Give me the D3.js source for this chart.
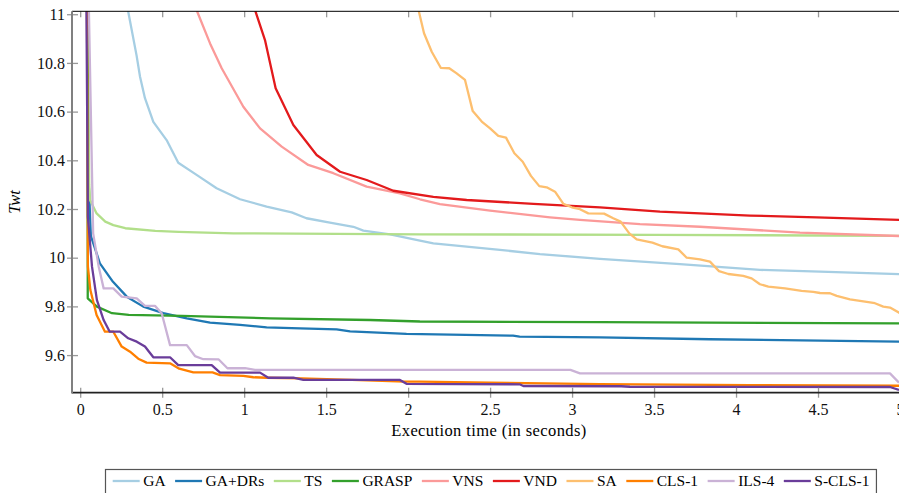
<!DOCTYPE html>
<html>
<head>
<meta charset="utf-8">
<script src="https://cdn.jsdelivr.net/npm/d3@7"></script>
<style>
  html, body { margin: 0; padding: 0; background: #fff; }
  svg { display: block; font-family: "Liberation Serif", "DejaVu Serif", serif; }
</style>
</head>
<body>
<svg id="chart" width="899" height="493"></svg>
<script>
// series: [time (s), Twt]
const gaData = [[0.28, 11.12], [0.293, 11.01], [0.344, 10.83], [0.365, 10.743], [0.395, 10.655], [0.446, 10.558],
  [0.527, 10.483], [0.598, 10.39], [0.71, 10.34], [0.832, 10.285], [0.975, 10.24], [1.137, 10.21], [1.29, 10.186],
  [1.38, 10.162], [1.523, 10.144], [1.666, 10.127], [1.727, 10.111], [1.89, 10.096], [2.072, 10.07], [2.154, 10.059],
  [2.56, 10.032], [2.804, 10.015], [3.17, 9.995], [3.658, 9.974], [4.146, 9.95], [4.512, 9.943], [5.0, 9.932]];
const gaDrsData = [[0.04, 11.3], [0.052, 10.305], [0.065, 10.09], [0.12, 9.977], [0.2, 9.901], [0.284, 9.84],
  [0.385, 9.799], [0.507, 9.772], [0.65, 9.751], [0.792, 9.733], [0.975, 9.724], [1.137, 9.714], [1.341, 9.71],
  [1.564, 9.706], [1.646, 9.697], [1.99, 9.687], [2.64, 9.68], [2.68, 9.676], [3.17, 9.673], [3.84, 9.665], [5.0, 9.655]];
const tsData = [[0.04, 11.3], [0.055, 10.3], [0.06, 10.237], [0.1, 10.182], [0.153, 10.148], [0.202, 10.134],
  [0.275, 10.121], [0.458, 10.11], [0.6, 10.106], [0.934, 10.1], [2.072, 10.096], [3.5, 10.094], [5.0, 10.09]];
const graspData = [[0.045, 11.3], [0.046, 9.833], [0.102, 9.799], [0.194, 9.772], [0.296, 9.765], [0.621, 9.761],
  [1.158, 9.751], [1.768, 9.744], [2.072, 9.738], [3.17, 9.735], [5.0, 9.73]];
const vnsData = [[0.7, 11.1], [0.714, 11.01], [0.792, 10.88], [0.863, 10.778], [0.995, 10.62], [1.097, 10.531],
  [1.229, 10.456], [1.391, 10.381], [1.544, 10.347], [1.747, 10.292], [1.95, 10.264], [2.072, 10.24], [2.194, 10.22],
  [2.5, 10.193], [2.865, 10.166], [3.048, 10.155], [3.414, 10.138], [3.78, 10.127], [4.39, 10.103], [5.0, 10.089]];
const vndData = [[1.06, 11.08], [1.07, 11.01], [1.127, 10.894], [1.192, 10.696], [1.3, 10.545], [1.442, 10.422],
  [1.585, 10.353], [1.747, 10.319], [1.91, 10.275], [2.154, 10.25], [2.357, 10.237], [2.764, 10.221], [3.17, 10.207],
  [3.536, 10.189], [3.78, 10.182], [4.085, 10.173], [4.492, 10.166], [5.0, 10.155]];
const saData = [[2.06, 11.06], [2.066, 11.01], [2.097, 10.922], [2.144, 10.846], [2.199, 10.78], [2.251, 10.778],
  [2.296, 10.757], [2.347, 10.73], [2.394, 10.602], [2.449, 10.559], [2.5, 10.531], [2.55, 10.5], [2.597, 10.493],
  [2.648, 10.429], [2.699, 10.394], [2.749, 10.336], [2.8, 10.294], [2.845, 10.289], [2.896, 10.271], [2.947, 10.221],
  [2.998, 10.207], [3.048, 10.199], [3.099, 10.182], [3.195, 10.181], [3.251, 10.162], [3.296, 10.148], [3.349, 10.1],
  [3.394, 10.075], [3.49, 10.062], [3.55, 10.047], [3.648, 10.034], [3.699, 10.0], [3.78, 9.993], [3.841, 9.984],
  [3.896, 9.945], [3.953, 9.933], [4.044, 9.925], [4.095, 9.915], [4.146, 9.891], [4.197, 9.881], [4.299, 9.874],
  [4.4, 9.864], [4.471, 9.86], [4.512, 9.855], [4.573, 9.854], [4.614, 9.843], [4.695, 9.829], [4.797, 9.819],
  [4.847, 9.813], [4.898, 9.799], [4.939, 9.795], [5.0, 9.772]];
const cls1Data = [[0.04, 11.3], [0.047, 9.963], [0.062, 9.867], [0.1, 9.765], [0.151, 9.696], [0.202, 9.696],
  [0.253, 9.635], [0.304, 9.614], [0.354, 9.585], [0.405, 9.569], [0.548, 9.566], [0.604, 9.544], [0.69, 9.529],
  [0.807, 9.529], [0.853, 9.518], [0.995, 9.515], [1.056, 9.509], [1.137, 9.507], [1.35, 9.504], [1.656, 9.498],
  [1.98, 9.491], [2.07, 9.491], [2.5, 9.487], [3.17, 9.481], [4.085, 9.477], [5.0, 9.474]];
const ils4Data = [[0.045, 11.3], [0.079, 10.1], [0.113, 9.963], [0.143, 9.874], [0.202, 9.874], [0.253, 9.84],
  [0.345, 9.833], [0.395, 9.802], [0.456, 9.802], [0.497, 9.772], [0.548, 9.641], [0.65, 9.641], [0.7, 9.596],
  [0.751, 9.583], [0.845, 9.582], [0.898, 9.546], [1.005, 9.546], [1.066, 9.539], [2.99, 9.539], [3.048, 9.525],
  [4.939, 9.525], [4.994, 9.487]];
const scls1Data = [[0.035, 11.3], [0.047, 10.168], [0.072, 9.963], [0.102, 9.826], [0.143, 9.744], [0.18, 9.696],
  [0.243, 9.696], [0.293, 9.669], [0.345, 9.655], [0.395, 9.635], [0.446, 9.591], [0.548, 9.591], [0.598, 9.559],
  [0.802, 9.559], [0.853, 9.528], [1.097, 9.528], [1.147, 9.507], [1.3, 9.507], [1.361, 9.498], [1.95, 9.498],
  [1.99, 9.482], [2.68, 9.48], [2.703, 9.473], [3.3, 9.472], [3.353, 9.47], [4.939, 9.469], [4.994, 9.457]];

const seriesNames = ['GA', 'GA+DRs', 'TS', 'GRASP', 'VNS', 'VND', 'SA', 'CLS-1', 'ILS-4', 'S-CLS-1'];
const seriesData = [gaData, gaDrsData, tsData, graspData, vnsData, vndData, saData, cls1Data, ils4Data, scls1Data];
const colors = ['#a6cee3', '#1f78b4', '#b2df8a', '#33a02c', '#fb9a99', '#e31a1c', '#fdbf6f', '#ff7f00', '#cab2d6', '#6a3d9a'];

const xTicks = [0, 0.5, 1, 1.5, 2, 2.5, 3, 3.5, 4, 4.5, 5];
const yTicks = [9.6, 9.8, 10, 10.2, 10.4, 10.6, 10.8, 11];

const svg = d3.select('#chart');
const plotLeft = 72, plotRight = 900, plotTop = 11.3, plotBottom = 392.7;

const x = d3.scaleLinear().domain([-0.05, 5]).range([plotLeft, plotRight]);
const y = d3.scaleLinear().domain([9.4455, 11.012]).range([plotBottom, plotTop]);

svg.append('clipPath').attr('id', 'plot-clip')
   .append('rect')
   .attr('x', plotLeft).attr('y', plotTop)
   .attr('width', plotRight - plotLeft).attr('height', plotBottom - plotTop);

// lines
const line = d3.line().x(d => x(d[0])).y(d => y(d[1]));
const lines = svg.append('g').attr('clip-path', 'url(#plot-clip)');
seriesData.forEach((data, i) => {
    lines.append('path')
         .datum(data)
         .attr('fill', 'none')
         .attr('stroke', colors[i])
         .attr('stroke-width', 2.3)
         .attr('stroke-linejoin', 'round')
         .attr('d', line);
});

// axes
const fmt = d => String(+d.toFixed(1));
const tickFont = 16;

const xAxis = svg.append('g')
   .attr('transform', 'translate(0,' + plotBottom + ')')
   .call(d3.axisBottom(x).tickValues(xTicks).tickFormat(fmt).tickSize(5).tickPadding(6));
xAxis.selectAll('.tick line').attr('y1', -5).attr('stroke', '#999').attr('stroke-width', 1.3);

const topAxis = svg.append('g')
   .attr('transform', 'translate(0,' + plotTop + ')')
   .call(d3.axisTop(x).tickValues(xTicks).tickFormat('').tickSize(-6));
topAxis.selectAll('.tick line').attr('stroke', '#999').attr('stroke-width', 1.3);

const yAxis = svg.append('g')
   .attr('transform', 'translate(' + plotLeft + ',0)')
   .call(d3.axisLeft(y).tickValues(yTicks).tickFormat(fmt).tickSize(5).tickPadding(2));
yAxis.selectAll('.tick line').attr('x1', 6).attr('stroke', '#999').attr('stroke-width', 1.3);

[xAxis, topAxis, yAxis].forEach(g => {
    g.select('.domain').remove();
    g.selectAll('text')
     .attr('fill', '#111')
     .style('font-family', '"Liberation Serif", serif')
     .style('font-size', tickFont + 'px');
});

svg.append('line').attr('x1', plotLeft).attr('x2', plotRight).attr('y1', plotTop).attr('y2', plotTop)
   .attr('stroke', '#000').attr('stroke-width', 1);
svg.append('line').attr('x1', plotLeft).attr('x2', plotRight).attr('y1', plotBottom).attr('y2', plotBottom)
   .attr('stroke', '#222').attr('stroke-width', 1.7);
svg.append('line').attr('x1', plotLeft).attr('x2', plotLeft).attr('y1', plotTop).attr('y2', plotBottom + 0.8)
   .attr('stroke', '#808080').attr('stroke-width', 2);

// axis titles
svg.append('text')
   .attr('x', (plotLeft + plotRight) / 2 + 3).attr('y', 436)
   .attr('text-anchor', 'middle')
   .style('font-size', '16.5px')
   .style('letter-spacing', '0.4px')
   .text('Execution time (in seconds)');

svg.append('text')
   .attr('transform', 'translate(20,' + (plotTop + plotBottom) / 2 + ') rotate(-90)')
   .attr('text-anchor', 'middle')
   .style('font-size', '16.5px')
   .style('font-style', 'italic')
   .text('Twt');

// legend
const legend = svg.append('g');
const legendBox = legend.append('rect')
   .attr('x', 105.5).attr('y', 469.5)
   .attr('height', 30)
   .attr('fill', '#fff')
   .attr('stroke', '#555').attr('stroke-width', 1.2);

let lx = 112.7;
seriesNames.forEach((name, i) => {
    legend.append('line')
          .attr('x1', lx).attr('x2', lx + 27)
          .attr('y1', 481).attr('y2', 481)
          .attr('stroke', colors[i]).attr('stroke-width', 2.3);
    const t = legend.append('text')
          .attr('x', lx + 30.5).attr('y', 486)
          .style('font-size', '15.5px')
          .text(name);
    lx += 30.5 + t.node().getComputedTextLength() + 9.5;
});
legendBox.attr('width', lx - 9.5 + 7 - 105.5);
</script>
</body>
</html>
